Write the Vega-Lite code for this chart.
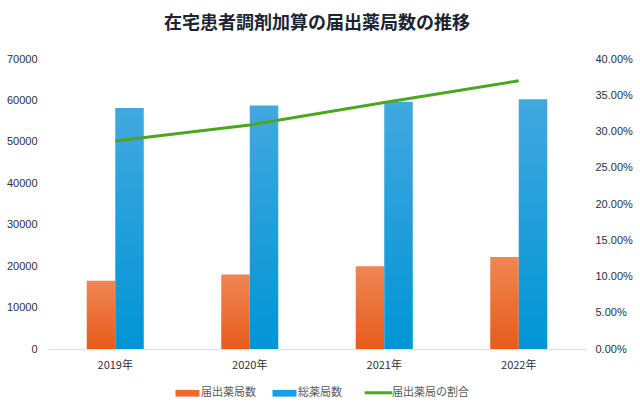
{
  "$schema": "https://vega.github.io/schema/vega-lite/v6.json",
  "autosize": "none",
  "width": 538,
  "height": 290,
  "padding": {"left": 48, "top": 59, "right": 54, "bottom": 65},
  "background": "white",
  "title": {
    "text": "在宅患者調剤加算の届出薬局数の推移",
    "font": "Noto Sans CJK JP",
    "fontSize": 18,
    "fontWeight": "bold",
    "color": "#1c2433",
    "anchor": "middle",
    "offset": 20
  },
  "config": {
    "view": {"stroke": null},
    "axis": {"labelFont": "Liberation Sans", "labelFontSize": 11, "labelColor": "#2b303a", "grid": false, "ticks": false, "domain": false, "title": null}
  },
  "data": {
    "values": [
      {"year": "2019年", "series": "届出薬局数", "value": 16500},
      {"year": "2019年", "series": "総薬局数", "value": 58200},
      {"year": "2020年", "series": "届出薬局数", "value": 18000},
      {"year": "2020年", "series": "総薬局数", "value": 58800},
      {"year": "2021年", "series": "届出薬局数", "value": 20000},
      {"year": "2021年", "series": "総薬局数", "value": 59700},
      {"year": "2022年", "series": "届出薬局数", "value": 22200},
      {"year": "2022年", "series": "総薬局数", "value": 60300}
    ]
  },
  "encoding": {
    "x": {
      "field": "year",
      "type": "nominal",
      "scale": {"paddingInner": 0.576, "paddingOuter": 0.288},
      "axis": {"labelAngle": 0, "domain": true, "domainColor": "#dbe3ec", "domainWidth": 1.5, "labelPadding": 10, "labelFont": "Noto Sans CJK JP", "labelColor": "#2b303a"}
    }
  },
  "layer": [
    {
      "mark": {"type": "bar"},
      "encoding": {
        "xOffset": {"field": "series", "type": "nominal", "scale": {"domain": ["届出薬局数", "総薬局数"], "paddingInner": 0, "paddingOuter": 0}},
        "y": {
          "field": "value",
          "type": "quantitative",
          "scale": {"domain": [0, 70000]},
          "axis": {"values": [0, 10000, 20000, 30000, 40000, 50000, 60000, 70000], "format": "d", "labelPadding": 11, "orient": "left"}
        },
        "color": {
          "condition": {
            "test": "datum.series === '届出薬局数'",
            "value": {"gradient": "linear", "x1": 0, "y1": 0, "x2": 0, "y2": 1, "stops": [{"offset": 0, "color": "#EF8654"}, {"offset": 1, "color": "#E85B1B"}]}
          },
          "value": {"gradient": "linear", "x1": 0, "y1": 0, "x2": 0, "y2": 1, "stops": [{"offset": 0, "color": "#42A8E0"}, {"offset": 1, "color": "#0095D5"}]}
        }
      }
    },
    {
      "data": {
        "values": [
          {"year": "2019年", "ratio": 0.287},
          {"year": "2020年", "ratio": 0.309},
          {"year": "2021年", "ratio": 0.340},
          {"year": "2022年", "ratio": 0.370}
        ]
      },
      "mark": {"type": "line", "strokeWidth": 3},
      "encoding": {
        "y": {
          "field": "ratio",
          "type": "quantitative",
          "scale": {"domain": [0, 0.4]},
          "axis": {"orient": "right", "values": [0, 0.05, 0.1, 0.15, 0.2, 0.25, 0.3, 0.35, 0.4], "format": ".2%", "labelPadding": 9}
        },
        "color": {
          "datum": "届出薬局の割合",
          "type": "nominal",
          "scale": {"domain": ["届出薬局数", "総薬局数", "届出薬局の割合"], "range": ["#EC6A2C", "#18A0E0", "#4CA71E"]},
          "legend": {
            "orient": "none",
            "legendX": 134,
            "legendY": 328,
            "direction": "horizontal",
            "title": null,
            "labelFont": "Noto Sans CJK JP",
            "labelFontSize": 11,
            "labelColor": "#595959",
            "symbolSize": 576,
            "columnPadding": 16,
            "labelOffset": 8,
            "encode": {
              "symbols": {
                "update": {
                  "shape": {"signal": "datum.value === '届出薬局の割合' ? 'M-1.15,0L1.15,0' : 'M-1,-0.28H1V0.28H-1Z'"},
                  "fill": {"signal": "datum.value === '届出薬局の割合' ? 'transparent' : scale('color', datum.value)"},
                  "stroke": {"signal": "scale('color', datum.value)"},
                  "strokeWidth": {"signal": "datum.value === '届出薬局の割合' ? 3 : 0"},
                  "opacity": {"value": 1}
                }
              }
            }
          }
        }
      }
    }
  ],
  "resolve": {"scale": {"y": "independent"}}
}
